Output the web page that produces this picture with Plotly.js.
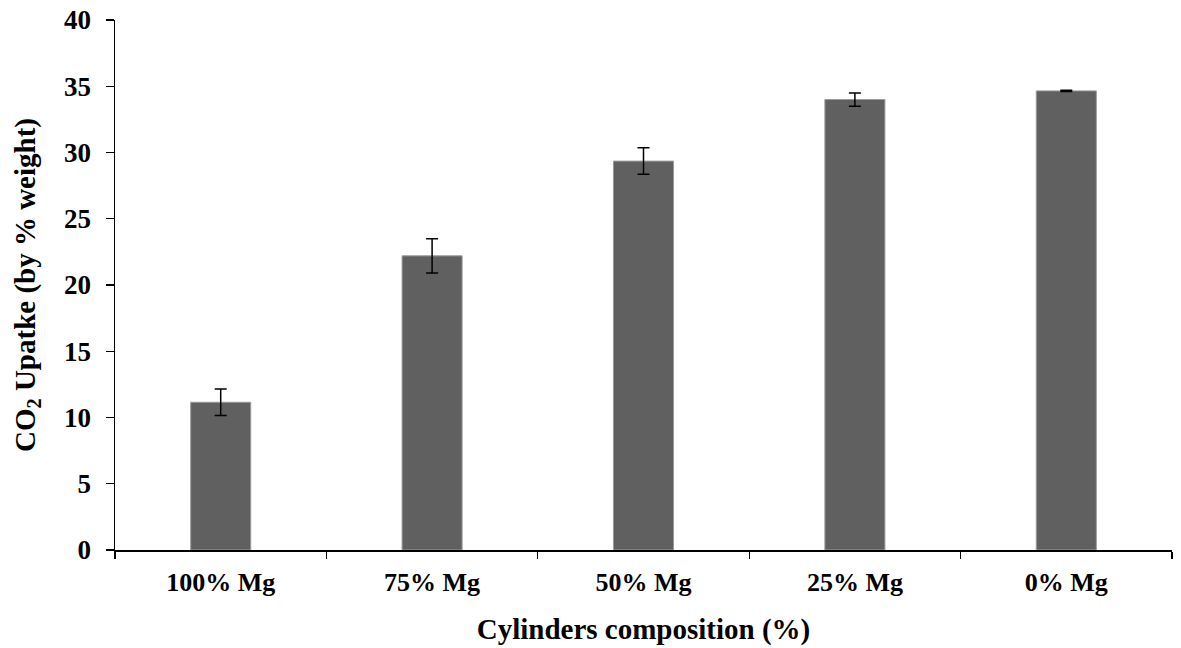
<!DOCTYPE html>
<html>
<head>
<meta charset="utf-8">
<script src="https://cdn.plot.ly/plotly-3.0.1.min.js"></script>
<style>html,body{margin:0;padding:0;background:#fff}#chart{width:1181px;height:648px}</style>
</head>
<body>
<div id="chart"></div>
<script>
const categories = ["100% Mg", "75% Mg", "50% Mg", "25% Mg", "0% Mg"];
const uptake = [11.15, 22.2, 29.35, 34.0, 34.65];
const errors = [1.0, 1.3, 1.0, 0.5, 0.05];
const yTicks = [0, 5, 10, 15, 20, 25, 30, 35, 40];

const font = "Liberation Serif, Times New Roman, serif";

Plotly.newPlot('chart', [{
  type: 'bar',
  x: categories,
  y: uptake,
  marker: {color: '#606060', line: {color: '#9a9a9a', width: 1}},
  error_y: {type: 'data', array: errors, visible: true, color: '#000', thickness: 1.5, width: 6},
  hoverinfo: 'none'
}], {
  width: 1181, height: 648,
  margin: {l: 115, r: 9, t: 20, b: 98},
  paper_bgcolor: '#fff', plot_bgcolor: '#fff',
  bargap: 0.716,
  showlegend: false,
  font: {family: font, color: '#000'},
  xaxis: {
    type: 'category',
    showline: true, linecolor: '#000', linewidth: 1.5,
    ticks: 'outside', tickson: 'boundaries', ticklen: 7, tickwidth: 1.2, tickcolor: '#000',
    tickfont: {family: font, size: 26, color: '#000', weight: 'bold'},
    ticklabelstandoff: 8,
    showgrid: false, zeroline: false,
    title: {text: '<b>Cylinders composition (%)</b>', font: {family: font, size: 29, color: '#000'}, standoff: 23}
  },
  yaxis: {
    range: [0, 40], tickvals: yTicks, ticktext: yTicks.map(String),
    showline: true, linecolor: '#000', linewidth: 1.5,
    ticks: 'outside', ticklen: 8, tickwidth: 1.2, tickcolor: '#000',
    tickfont: {family: font, size: 27, color: '#000', weight: 'bold'},
    ticklabelstandoff: 9,
    showgrid: false, zeroline: false,
    title: {text: '<b>CO<sub>2</sub> Upatke (by % weight)</b>', font: {family: font, size: 29, color: '#000'}, standoff: 20}
  }
}, {displayModeBar: false, staticPlot: true});
</script>
</body>
</html>
